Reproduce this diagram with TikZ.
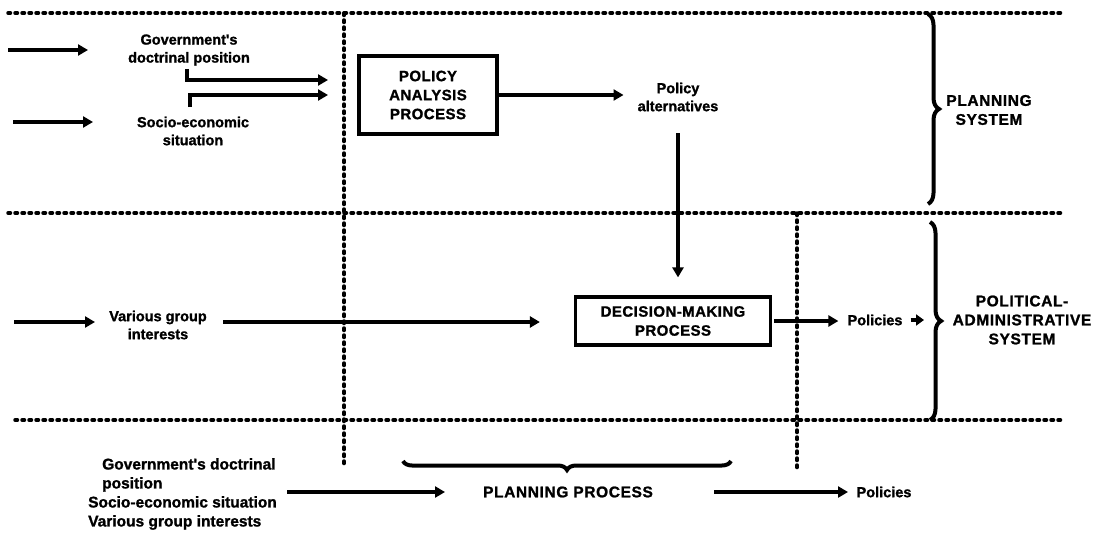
\documentclass[tikz,border=0pt]{standalone}
\usepackage{fontspec}
\setmainfont{Liberation Sans}
\newfontfamily\hv{Liberation Sans}[BoldFeatures={FakeBold=1.3}]
\usetikzlibrary{arrows.meta,decorations.pathreplacing}
\begin{document}
\begin{tikzpicture}[x=1pt,y=-1pt,
  lbl/.style={font=\hv\fontsize{14.5}{18}\selectfont\bfseries, align=center, inner sep=0pt},
  caps/.style={font=\hv\fontsize{15.5}{19}\selectfont\bfseries\addfontfeature{LetterSpace=4}, align=center, inner sep=0pt},
  procbox/.style={draw, line width=3.2pt, align=center, inner sep=0pt, font=\hv\fontsize{15}{19}\selectfont\bfseries\addfontfeature{LetterSpace=3}},
  sep/.style={line width=3.5pt, line cap=round, dash pattern=on 2.5pt off 4.5pt},
  arr/.style={line width=3.4pt, -{Triangle[length=10pt,width=11pt]}},
  brc/.style={decorate, decoration={brace, amplitude=11pt}, line width=4pt},
]
\useasboundingbox (0,0) rectangle (1100,535);
% separators
\coordinate (h1a) at (8,13);   \coordinate (h1b) at (1063,13);
\coordinate (h2a) at (8,213);  \coordinate (h2b) at (1063,213);
\coordinate (h3a) at (15,420); \coordinate (h3b) at (1063,420);
\coordinate (v1a) at (344,13); \coordinate (v1b) at (344,465);
\coordinate (v2a) at (797,213);\coordinate (v2b) at (797,469);
\draw[sep] (h1a) -- (h1b);
\draw[sep] (h2a) -- (h2b);
\draw[sep] (h3a) -- (h3b);
\draw[sep] (v1a) -- (v1b);
\draw[sep] (v2a) -- (v2b);
% top band
\node[lbl] (gov) at (189,50) {Government's\\doctrinal position};
\node[lbl] (socio) at (193,131) {Socio-economic\\situation};
\coordinate (g0) at (8,50);  \coordinate (g1) at (88,50);
\coordinate (s0) at (13,122); \coordinate (s1) at (93,122);
\draw[arr] (g0) -- (g1);
\draw[arr] (s0) -- (s1);
\coordinate (b1s) at (187,69);  \coordinate (b1e) at (328,80);
\coordinate (b2s) at (190,107); \coordinate (b2e) at (328,95);
\draw[arr] (b1s) |- (b1e);
\draw[arr] (b2s) |- (b2e);
\node[procbox, minimum width=138pt, minimum height=78pt] (pap) at (428,95) {POLICY\\ANALYSIS\\PROCESS};
\node[lbl] (palt) at (678,97) {Policy\\alternatives};
\coordinate (palt-in) at (palt.west |- pap.east);
\draw[arr, shorten >=14pt] (pap.east) -- (palt-in);
\node[caps] (ps) at (989,110) {PLANNING\\SYSTEM};
\coordinate (br1a) at (928,14); \coordinate (br1b) at (928,204);
\draw[brc] (br1a) -- (br1b);
% middle band
\node[procbox, minimum width=195pt, minimum height=48pt] (dm) at (673,321) {DECISION-MAKING\\PROCESS};
\coordinate (pa1) at (678,133);
\draw[arr, shorten >=18pt] (pa1) -- (pa1 |- dm.north);
\node[lbl] (var) at (158,325) {Various group\\interests};
\coordinate (v0) at (14,322); \coordinate (v1) at (95,322);
\draw[arr] (v0) -- (v1);
\coordinate (vl) at (223,322);
\draw[arr, shorten >=34pt] (vl) -- (vl -| dm.west);
\node[lbl] (pol1) at (875,320) {Policies};
\coordinate (pol1-in) at (pol1.west |- dm.east);
\draw[arr, shorten <=2pt, shorten >=9pt] (dm.east) -- (pol1-in);
\coordinate (pab) at (924,320);
\draw[arr, shorten <=8pt, -{Triangle[length=8pt,width=11pt]}] (pol1.east) -- (pab);
\coordinate (br2a) at (930,222); \coordinate (br2b) at (930,420);
\draw[brc] (br2a) -- (br2b);
\node[caps] (pas) at (1022,320) {POLITICAL-\\ADMINISTRATIVE\\SYSTEM};
% bottom
\node[lbl, font=\hv\fontsize{15.5}{19}\selectfont\bfseries, align=left, anchor=west] (inputs) at (88,494) {\hspace*{14pt}Government's doctrinal\\\hspace*{14pt}position\\Socio-economic situation\\Various group interests};
\node[caps] (pp) at (568,492) {PLANNING PROCESS};
\coordinate (a0) at (287,492); \coordinate (a1) at (445,492);
\draw[arr] (a0) -- (a1);
\coordinate (br3a) at (731,461); \coordinate (br3b) at (403,461);
\draw[brc, decoration={amplitude=9pt}] (br3a) -- (br3b);
\node[lbl] (pol2) at (884,492) {Policies};
\coordinate (c0) at (714,492); \coordinate (c1) at (848,492);
\draw[arr] (c0) -- (c1);
\end{tikzpicture}
\end{document}
